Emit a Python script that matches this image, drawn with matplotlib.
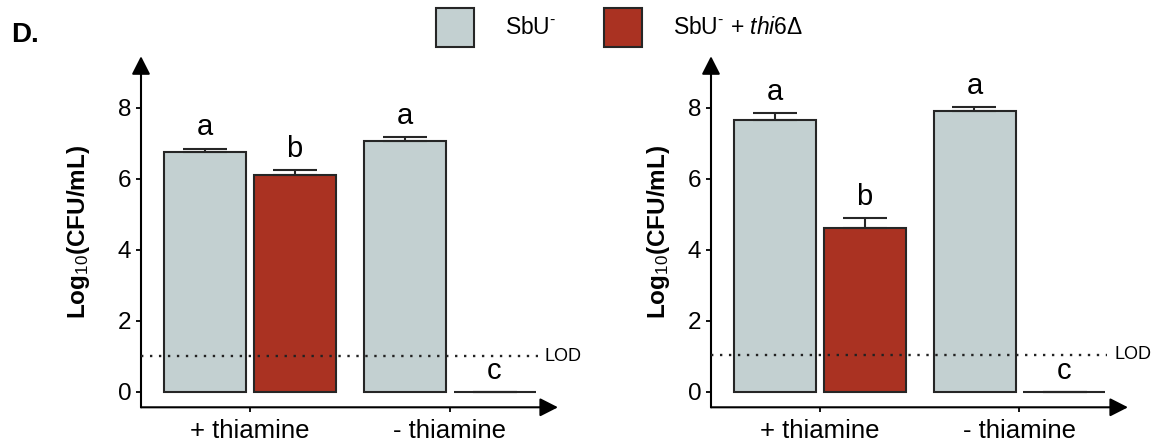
import matplotlib
matplotlib.use("Agg")
import matplotlib.pyplot as plt
from matplotlib.patches import Rectangle

plt.rcParams["font.family"] = "Liberation Sans"
plt.rcParams["mathtext.fontset"] = "custom"
plt.rcParams["mathtext.rm"] = "Liberation Sans"
plt.rcParams["mathtext.it"] = "Liberation Sans:italic"
plt.rcParams["mathtext.bf"] = "Liberation Sans:bold"

# data
groups = ["+ thiamine", "- thiamine"]
strains = ["SbU$^{\\text{-}}$", "SbU$^{\\text{-}}$ + $\\mathit{thi6}$Δ"]
left_means = [6.76, 6.09, 7.06, 0.0]
left_errs = [0.09, 0.15, 0.12, 0.0]
right_means = [7.65, 4.60, 7.92, 0.0]
right_errs = [0.19, 0.30, 0.09, 0.0]
letters = ["a", "b", "a", "c"]
left_lod = 1.0
right_lod = 1.04

grey = "#c3d0d1"
red = "#aa3222"
edge = "#262626"

W, H = 1162, 445
fig = plt.figure(figsize=(W / 100, H / 100), dpi=100)

ylo, yhi = -0.44, 9.45
ax_h = (yhi - ylo) * 35.5


def draw_panel(x0, means, errs, lod, label_x):
    ax = fig.add_axes([x0 / W, 1 - 407.3 / H, 417 / W, ax_h / H])
    xpos = [-0.225, 0.225, 0.775, 1.225]
    cols = [grey, red, grey, red]
    ax.bar(xpos, means, width=0.41, color=cols, edgecolor=edge, linewidth=1.5, zorder=2)
    ax.errorbar(xpos, means, yerr=[[0] * 4, errs], fmt="none", ecolor=edge,
                elinewidth=1.5, capsize=15.8, capthick=1.5, zorder=3)
    for x, m, e, t in zip(xpos, means, errs, letters):
        ax.text(x, m + e + 0.37, t, ha="center", va="baseline", fontsize=21)

    ax.plot([-0.5425, 1.44], [lod, lod], ls=(0, (1, 2.8)), lw=1.7, color="#222222",
            zorder=4, clip_on=False)
    ax.text(1.475, lod, "LOD", va="center", ha="left", fontsize=13)

    ax.set_xlim(-0.5425, 1.5425)
    ax.set_ylim(ylo, yhi)
    for s in ax.spines.values():
        s.set_visible(False)

    # axis lines with arrow heads
    arrow = dict(arrowstyle="-|>,head_width=0.28,head_length=0.55", mutation_scale=20,
                 color="black", lw=1.5, shrinkA=0, shrinkB=0)
    ax.annotate("", xy=(0, 1), xytext=(0, 0), xycoords="axes fraction", arrowprops=arrow)
    ax.annotate("", xy=(1, 0), xytext=(0, 0), xycoords="axes fraction", arrowprops=arrow)

    ax.set_xticks([0, 1])
    ax.set_xticklabels(groups)
    ax.set_yticks([0, 2, 4, 6, 8])
    ax.tick_params(axis="x", length=3.6, width=1.3, labelsize=18.5, pad=5)
    ax.tick_params(axis="y", length=3.6, width=1.3, labelsize=17.5, pad=3.5)
    ax.set_ylabel("Log$_{10}$(CFU/mL)", fontsize=17.5, fontweight="bold")
    ax.yaxis.set_label_coords(label_x, 0.5)
    return ax


draw_panel(141, left_means, left_errs, left_lod, -0.1175)
draw_panel(711, right_means, right_errs, right_lod, -0.0935)

fig.text(11 / W, 1 - 41.5 / H, "D.", fontsize=20, fontweight="bold", va="baseline")

# legend at the top
for bx, tx, c, lab in [(436, 505, grey, strains[0]), (604, 673, red, strains[1])]:
    fig.patches.append(Rectangle((bx / W, 1 - 47 / H), 38 / W, 39 / H, transform=fig.transFigure,
                                 facecolor=c, edgecolor=edge, linewidth=1.5))
    fig.text(tx / W, 1 - 28 / H, lab, fontsize=16.5, va="center", ha="left")

fig.savefig("out.png", dpi=100)
